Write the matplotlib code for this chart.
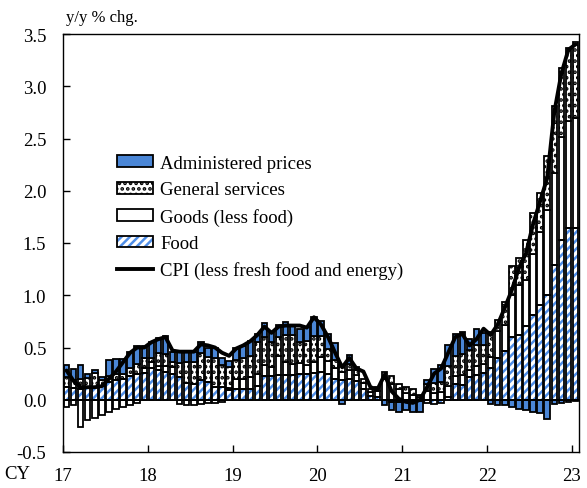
import numpy as np
import matplotlib
matplotlib.use('Agg')
import matplotlib.pyplot as plt
from matplotlib.patches import Patch
from matplotlib.lines import Line2D
from matplotlib.legend_handler import HandlerTuple

plt.rcParams['font.family'] = ['Liberation Serif', 'DejaVu Serif']
plt.rcParams['font.size'] = 13.5
plt.rcParams['hatch.linewidth'] = 1.8

# monthly, Jan 2017 .. Jan 2023, contributions in % points
food = [
    0.12, 0.11, 0.10, 0.11, 0.12, 0.13, 0.17, 0.19, 0.20, 0.23, 0.25, 0.26,
    0.30, 0.28, 0.27, 0.25, 0.22, 0.16, 0.15, 0.19, 0.17, 0.12, 0.12, 0.09,
    0.10, 0.10, 0.10, 0.13, 0.23, 0.23, 0.24, 0.24, 0.24, 0.25, 0.25, 0.26,
    0.27, 0.25, 0.20, 0.19, 0.20, 0.18, 0.10, 0.04, 0.03, 0.00, -0.02, -0.02,
    -0.02, -0.02, -0.01, -0.03, -0.04, -0.03, 0.03, 0.15, 0.14, 0.22, 0.24, 0.26,
    0.30, 0.40, 0.47, 0.60, 0.62, 0.71, 0.81, 0.91, 1.00, 1.29, 1.53, 1.64,
    1.64]
goods = [
    -0.07, -0.05, -0.26, -0.19, -0.17, -0.15, -0.12, -0.09, -0.07, -0.05, -0.03, 0.04,
    0.06, 0.04, 0.05, 0.06, -0.04, -0.05, -0.05, -0.04, -0.03, -0.03, -0.02, 0.02,
    0.10, 0.10, 0.12, 0.12, 0.10, 0.08, 0.18, 0.12, 0.10, 0.10, 0.08, 0.10,
    0.14, 0.12, 0.10, 0.08, 0.08, 0.06, 0.06, 0.03, 0.05, 0.20, 0.15, 0.10,
    0.06, 0.05, 0.03, 0.08, 0.06, 0.07, 0.10, 0.08, 0.10, 0.06, 0.08, 0.08,
    0.11, 0.26, 0.25, 0.40, 0.48, 0.44, 0.58, 0.70, 0.82, 0.88, 0.98, 1.03,
    1.06]
services = [
    0.10, 0.08, 0.10, 0.10, 0.14, 0.06, 0.06, 0.06, 0.05, 0.07, 0.09, 0.10,
    0.04, 0.13, 0.12, 0.05, 0.13, 0.20, 0.21, 0.26, 0.24, 0.28, 0.21, 0.20,
    0.18, 0.20, 0.20, 0.30, 0.27, 0.24, 0.18, 0.26, 0.28, 0.20, 0.23, 0.25,
    0.20, 0.12, 0.08, 0.06, 0.06, 0.04, 0.04, 0.03, 0.04, 0.07, 0.08, 0.05,
    0.06, 0.05, 0.02, 0.07, 0.10, 0.10, 0.19, 0.19, 0.20, 0.20, 0.20, 0.18,
    0.24, 0.10, 0.22, 0.28, 0.26, 0.38, 0.40, 0.37, 0.51, 0.64, 0.66, 0.70,
    0.72]
admin = [
    0.11, 0.10, 0.13, 0.04, 0.02, 0.03, 0.15, 0.14, 0.14, 0.16, 0.17, 0.11,
    0.15, 0.14, 0.17, 0.10, 0.12, 0.10, 0.10, 0.10, 0.09, 0.10, 0.07, 0.06,
    0.12, 0.11, 0.14, 0.08, 0.13, 0.10, 0.12, 0.12, 0.10, 0.13, 0.14, 0.18,
    0.14, 0.14, 0.16, -0.04, 0.09, 0.03, 0.00, 0.00, 0.00, -0.05, -0.08, -0.10,
    -0.08, -0.10, -0.11, 0.04, 0.13, 0.16, 0.20, 0.21, 0.21, 0.10, 0.16, 0.12,
    -0.04, -0.05, -0.05, -0.07, -0.09, -0.10, -0.12, -0.13, -0.18, -0.04, -0.03, -0.02,
    -0.01]
cpi = [
    0.28, 0.18, 0.12, 0.12, 0.12, 0.13, 0.20, 0.27, 0.36, 0.45, 0.50, 0.50,
    0.55, 0.58, 0.60, 0.47, 0.46, 0.46, 0.46, 0.53, 0.52, 0.50, 0.45, 0.42,
    0.49, 0.52, 0.56, 0.62, 0.70, 0.64, 0.70, 0.71, 0.71, 0.71, 0.69, 0.79,
    0.72, 0.60, 0.45, 0.31, 0.40, 0.30, 0.27, 0.12, 0.10, 0.24, 0.08, 0.01,
    -0.02, -0.03, 0.00, 0.12, 0.25, 0.30, 0.45, 0.60, 0.63, 0.52, 0.58, 0.68,
    0.62, 0.72, 0.88, 1.05, 1.26, 1.40, 1.68, 1.90, 2.12, 2.75, 3.12, 3.35,
    3.40]
year_labels = ['17', '18', '19', '20', '21', '22', '23']

BLUE = '#4a86d6'
HATCH_BLUE = '#4f8ee8'
DOTS = '...'

fig = plt.figure(figsize=(5.87, 4.89), dpi=100)
ax = fig.add_axes([63 / 587, 1 - 453 / 489, (579 - 63) / 587, (453 - 35) / 489])

n = len(cpi)
x = np.arange(n) + 0.5
w = 0.78
pos = np.zeros(n)
neg = np.zeros(n)


def stack(vals, **style):
    global pos, neg
    v = np.array(vals)
    bottom = np.where(v >= 0, pos, neg)
    m = v != 0
    if style.get('hatch_only'):
        ax.bar(x[m], v[m], bottom=bottom[m], width=w, color='white',
               edgecolor=HATCH_BLUE, hatch='////', linewidth=0, zorder=2)
        ax.bar(x[m], v[m], bottom=bottom[m], width=w, fill=False,
               edgecolor='black', linewidth=1.3, zorder=3)
    else:
        ax.bar(x[m], v[m], bottom=bottom[m], width=w, zorder=2,
               linewidth=1.3, **style)
    pos = pos + np.where(v > 0, v, 0)
    neg = neg + np.where(v < 0, v, 0)


stack(food, hatch_only=True)
stack(goods, color='white', edgecolor='black')
stack(services, color='white', edgecolor='black', hatch=DOTS)
stack(admin, color=BLUE, edgecolor='black')

ax.axhline(0, color='black', linewidth=1.2, zorder=4)
ax.plot(x, cpi, color='black', linewidth=2.8, solid_joinstyle='round',
        solid_capstyle='round', zorder=5)

ax.set_xlim(0, n)
ax.set_ylim(-0.5, 3.5)
ax.set_yticks(np.arange(-0.5, 3.51, 0.5))
ax.set_yticklabels(['%.1f' % t for t in np.arange(-0.5, 3.51, 0.5)])
ax.set_xticks(np.arange(0, n, 12))
ax.set_xticklabels(year_labels)
ax.tick_params(direction='in', length=5, width=1)
ax.tick_params(axis='y', pad=12)
ax.tick_params(axis='x', pad=11)
for s in ax.spines.values():
    s.set_linewidth(1)

fig.text(17 / 587, 1 - 475 / 489, 'CY', ha='center', va='center')
fig.text(66 / 587, 1 - 18 / 489, 'y/y % chg.', ha='left', va='center', fontsize=12)

handles = [
    Patch(facecolor=BLUE, edgecolor='black', linewidth=1.3),
    Patch(facecolor='white', edgecolor='black', hatch=DOTS, linewidth=1.3),
    Patch(facecolor='white', edgecolor='black', linewidth=1.3),
    (Patch(facecolor='white', edgecolor=HATCH_BLUE, hatch='////', linewidth=0),
     Patch(fill=False, edgecolor='black', linewidth=1.3)),
    Line2D([], [], color='black', linewidth=2.8),
]
labels = ['Administered prices', 'General services', 'Goods (less food)',
          'Food', 'CPI (less fresh food and energy)']
ax.legend(handles, labels, loc='upper left', frameon=False,
          bbox_to_anchor=(117 / 587, 1 - 156 / 489), bbox_transform=fig.transFigure,
          borderpad=0, borderaxespad=0, handlelength=1.9, handleheight=0.6,
          handletextpad=0.4, labelspacing=0.5,
          handler_map={tuple: HandlerTuple(ndivide=1, pad=0)})

fig.savefig('out.png', dpi=100)
